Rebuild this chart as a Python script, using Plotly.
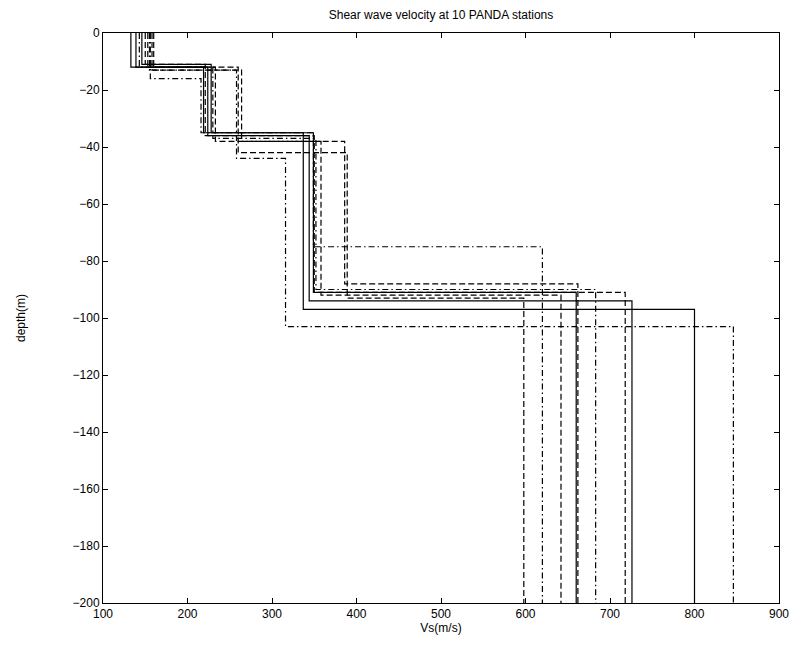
import plotly.graph_objects as go

stations = ["S1", "S2", "S3", "S4", "S5", "S6", "S7", "S8", "S9", "S10"]
styles = ["solid", "solid", "solid", "dashed", "dashed", "dashed", "dashed", "dashdot", "dashdot", "dashdot"]

# Shear-wave velocity (m/s) of each layer, per station
vs_layer1 = [133, 139, 146, 150, 153, 158, 160, 155, 156, 143]
vs_layer2 = [219, 224, 228, 221, 233, 264, 260, 258, 216, 230]
vs_layer3 = [337, 344, 349, 350, 358, 386, 389, 316, 349, 352]
vs_layer4 = [800, 726, 660, 718, 642, 662, 598, 846, 620, 683]

# Depth (m) of the bottom of each layer, per station
depth1 = [-12, -12, -11, -11, -12, -13, -12, -13, -16, -12]
depth2 = [-35, -36, -35, -36, -38, -38, -42, -44, -35, -37]
depth3 = [-97, -94, -91, -91, -92, -88, -93, -103, -75, -90]
depth_top = 0
depth_bottom = -200

x_ticks = [100, 200, 300, 400, 500, 600, 700, 800, 900]
y_ticks = [0, -20, -40, -60, -80, -100, -120, -140, -160, -180, -200]

dash_map = {"solid": "solid", "dashed": "6px,3px", "dashdot": "6px,3px,1.5px,3px"}

fig = go.Figure()
for i, name in enumerate(stations):
    xs = [vs_layer1[i], vs_layer2[i], vs_layer3[i], vs_layer4[i], vs_layer4[i]]
    ys = [depth_top, depth1[i], depth2[i], depth3[i], depth_bottom]
    fig.add_trace(go.Scatter(
        x=xs, y=ys, mode="lines", name=name,
        line=dict(color="black", width=1.2, shape="vh", dash=dash_map[styles[i]]),
        showlegend=False, hoverinfo="skip",
    ))

font = "Liberation Sans, Arial, Helvetica, sans-serif"
axis_common = dict(
    showline=True, linecolor="black", linewidth=1, mirror="ticks",
    ticks="inside", ticklen=5, tickcolor="black", showgrid=False, zeroline=False,
    tickfont=dict(family=font, size=12, color="black"),
)

# page has an 8px body margin: size the figure so it fits the 809x650 window
fig.update_layout(
    width=793, height=634,
    margin=dict(l=94, r=20, t=25, b=28),
    paper_bgcolor="white", plot_bgcolor="white",
    title=dict(text="Shear wave velocity at 10 PANDA stations", x=0.5, xref="paper",
               y=1, yref="paper", yanchor="bottom", pad=dict(b=14),
               font=dict(family=font, size=12, color="black")),
    xaxis=dict(range=[100, 900], tickvals=x_ticks, ticktext=[str(v) for v in x_ticks],
               title=dict(text="Vs(m/s)", standoff=0, font=dict(family=font, size=12, color="black")),
               **axis_common),
    yaxis=dict(range=[-200, 0], tickvals=y_ticks, ticktext=[str(v).replace("-", "\u2212") for v in y_ticks],
               title=dict(text="depth(m)", standoff=44, font=dict(family=font, size=12, color="black")),
               **axis_common),
)

fig.write_html("out.html")
